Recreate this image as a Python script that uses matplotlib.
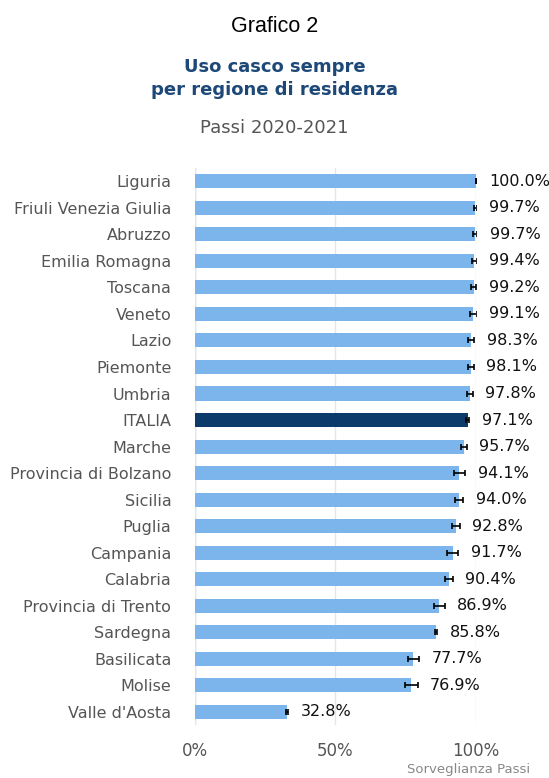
import matplotlib.pyplot as plt
import numpy as np

regions = ["Liguria", "Friuli Venezia Giulia", "Abruzzo", "Emilia Romagna", "Toscana",
           "Veneto", "Lazio", "Piemonte", "Umbria", "ITALIA", "Marche",
           "Provincia di Bolzano", "Sicilia", "Puglia", "Campania", "Calabria",
           "Provincia di Trento", "Sardegna", "Basilicata", "Molise", "Valle d'Aosta"]
values = [100.0, 99.7, 99.7, 99.4, 99.2, 99.1, 98.3, 98.1, 97.8, 97.1, 95.7,
          94.1, 94.0, 92.8, 91.7, 90.4, 86.9, 85.8, 77.7, 76.9, 32.8]
errors = [0.1, 0.5, 0.7, 0.8, 0.9, 1.1, 1.0, 1.1, 1.0, 0.5, 1.0,
          2.0, 1.5, 1.5, 2.0, 1.3, 2.0, 0.3, 2.0, 2.3, 0.3]

colors = ['#0b3a6b' if r == "ITALIA" else '#7cb5ec' for r in regions]

fig = plt.figure(figsize=(5.49, 7.78), dpi=100)
ax = fig.add_axes([0.355, 0.068, 0.512, 0.716])

y = np.arange(len(regions))
ax.barh(y, values, height=0.53, color=colors, zorder=2)
ax.errorbar(values, y, xerr=errors, fmt='none', ecolor='black', elinewidth=1.2,
            capsize=2.5, capthick=1.2, zorder=3)

for yi, v, e in zip(y, values, errors):
    ax.annotate(f"{v:.1f}%", xy=(v + e, yi), xytext=(9, 0), textcoords='offset points',
                va='center', ha='left', fontsize=11.5, color='#111111', annotation_clip=False)

ax.set_xlim(0, 100)
ax.set_ylim(len(regions) - 0.5, -0.5)
ax.set_yticks(y)
ax.set_yticklabels(regions, fontsize=11.5, color='#555555')
ax.set_xticks([0, 50, 100])
ax.set_xticklabels(["0%", "50%", "100%"], fontsize=12, color='#555555')
ax.tick_params(axis='y', length=0, pad=17)
ax.tick_params(axis='x', length=0, pad=12)
ax.grid(axis='x', color='#e6e6e6', linewidth=1, zorder=0)
for s in ax.spines.values():
    s.set_visible(False)
ax.axvline(0, color='#ccd6eb', linewidth=1, zorder=1)

fig.text(0.5, 0.966, "Grafico 2", ha='center', va='center', fontsize=15.5,
         family='Liberation Sans')
fig.text(0.5, 0.899, "Uso casco sempre\nper regione di residenza", ha='center', va='center',
         fontsize=13, fontweight='bold', color='#1d4877', linespacing=1.3)
fig.text(0.5, 0.835, "Passi 2020-2021", ha='center', va='center', fontsize=13,
         color='#555555')
fig.text(0.966, 0.002, "Sorveglianza Passi", ha='right', va='bottom', fontsize=9.5,
         color='#888888')

fig.savefig("out.png", dpi=100)
